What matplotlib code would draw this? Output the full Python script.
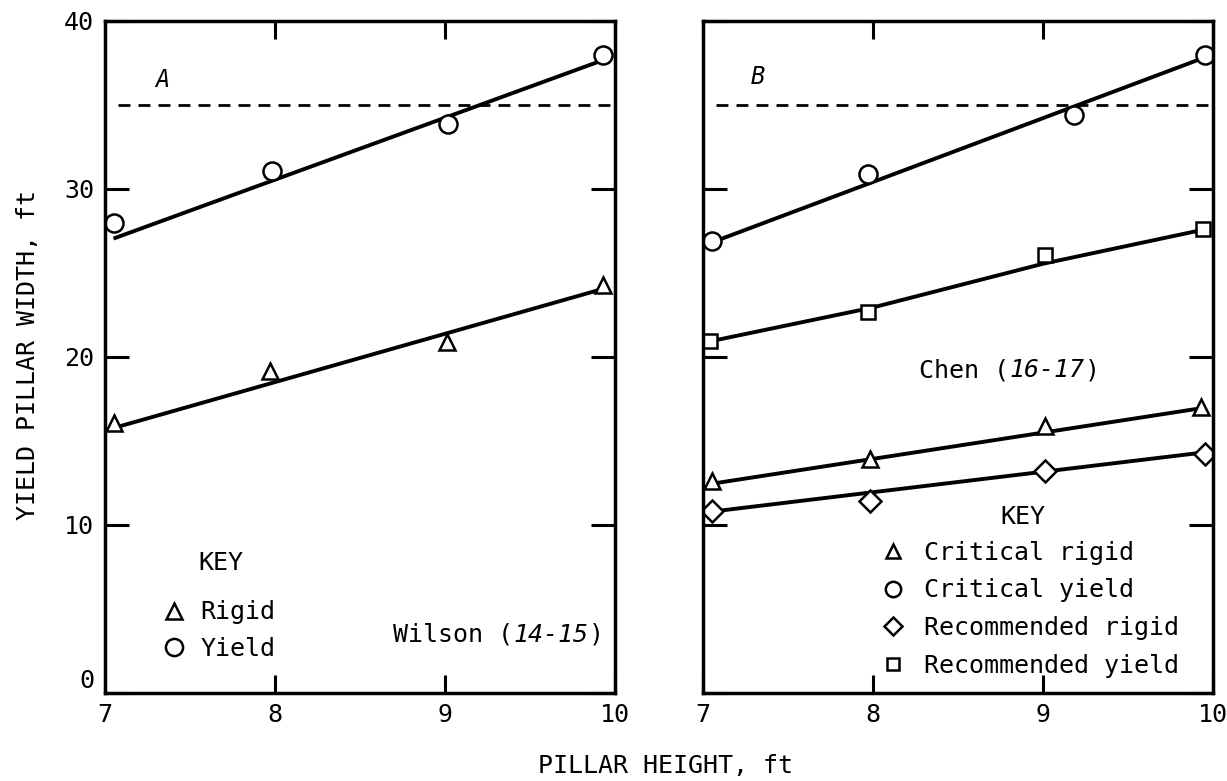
import matplotlib
matplotlib.use("Agg")
import matplotlib.pyplot as plt

plt.rcParams['font.family'] = ['DejaVu Sans Mono', 'DejaVu Sans']
plt.rcParams['font.size'] = 18

# axis setup
X_TICKS = [7, 8, 9, 10]
Y_TICKS = [0, 10, 20, 30, 40]
DASH_LEVEL = 35

# panel A - Wilson
a_yield_x = [7.05, 7.98, 9.02, 9.93]
a_yield_y = [27.95, 31.1, 33.85, 38.0]
a_rigid_x = [7.05, 7.97, 9.01, 9.93]
a_rigid_y = [16.1, 19.15, 20.9, 24.3]
a_yield_fit_x = [7.05, 9.91]
a_yield_fit_y = [27.05, 37.6]
a_rigid_fit_x = [7.06, 9.91]
a_rigid_fit_y = [15.8, 24.0]

# panel B - Chen
b_crit_yield_x = [7.05, 7.97, 9.18, 9.95]
b_crit_yield_y = [26.9, 30.9, 34.4, 37.95]
b_rec_yield_x = [7.04, 7.97, 9.01, 9.94]
b_rec_yield_y = [20.95, 22.7, 26.05, 27.6]
b_crit_rigid_x = [7.05, 7.98, 9.01, 9.93]
b_crit_rigid_y = [12.6, 13.9, 15.9, 17.0]
b_rec_rigid_x = [7.05, 7.98, 9.01, 9.95]
b_rec_rigid_y = [10.85, 11.4, 13.2, 14.25]

b_crit_yield_fit_x = [7.06, 9.93]
b_crit_yield_fit_y = [26.85, 37.75]
b_rec_yield_fit_x = [7.05, 8.0, 9.0, 9.93]
b_rec_yield_fit_y = [20.95, 22.95, 25.55, 27.55]
b_crit_rigid_fit_x = [7.06, 9.93]
b_crit_rigid_fit_y = [12.47, 16.95]
b_rec_rigid_fit_x = [7.07, 9.93]
b_rec_rigid_fit_y = [10.82, 14.3]

W, H = 1227, 781
fig = plt.figure(figsize=(W / 100, H / 100), dpi=100)
axA = fig.add_axes([105 / W, 1 - 693 / H, 510 / W, 672 / H])
axB = fig.add_axes([703 / W, 1 - 693 / H, 510 / W, 672 / H])

mk = dict(ls='none', mfc='white', mec='black', mew=1.8)
fit = dict(color='black', lw=2.8, solid_capstyle='butt')


def style(ax, ylabels):
    ax.set_xlim(7, 10)
    ax.set_ylim(0, 40)
    ax.set_xticks(X_TICKS)
    ax.set_yticks(Y_TICKS)
    for s in ax.spines.values():
        s.set_linewidth(2.5)
    ax.tick_params(direction='in', top=True, right=True, width=2.2, labelsize=18)
    ax.tick_params(axis='y', length=17, pad=8, labelleft=ylabels)
    ax.tick_params(axis='x', length=13, pad=7)
    ax.axhline(DASH_LEVEL, xmin=0.025, xmax=1, color='black', lw=2,
               dashes=(4.3, 2.9), zorder=1)
    if ylabels:
        ax.yaxis.get_major_ticks()[0].label1.set_verticalalignment('bottom')


style(axA, True)
style(axB, False)

# panel A
axA.plot(a_yield_fit_x, a_yield_fit_y, **fit)
axA.plot(a_rigid_fit_x, a_rigid_fit_y, **fit)
hr, = axA.plot(a_rigid_x, a_rigid_y, marker='^', ms=12, **mk)
hy, = axA.plot(a_yield_x, a_yield_y, marker='o', ms=13, **mk)

axA.text(0.113, 0.9125, 'A', style='italic', fontsize=17,
         ha='center', va='center', transform=axA.transAxes)
axA.text(0.2275, 0.1935, 'KEY', ha='center', va='center', transform=axA.transAxes)
axA.legend([hr, hy], ['Rigid', 'Yield'], loc='upper left',
           bbox_to_anchor=(0.111, 0.1377), frameon=False, borderpad=0,
           borderaxespad=0, handlelength=1.0, handletextpad=0.55,
           labelspacing=0.5, numpoints=1, markerscale=0.95)


def mixed_label(ax, x, y, parts):
    # monospace font: each char advances 0.602 em
    adv = 0.602 * 18
    n = 0
    for txt, st in parts:
        ax.annotate(txt, xy=(x, y), xycoords='axes fraction',
                    xytext=(n * adv, 0), textcoords='offset points',
                    ha='left', va='baseline', style=st)
        n += len(txt)


mixed_label(axA, 0.565, 0.0759, [('Wilson (', 'normal'), ('14-15', 'italic'), (')', 'normal')])

# panel B
axB.plot(b_crit_yield_fit_x, b_crit_yield_fit_y, **fit)
axB.plot(b_rec_yield_fit_x, b_rec_yield_fit_y, **fit)
axB.plot(b_crit_rigid_fit_x, b_crit_rigid_fit_y, **fit)
axB.plot(b_rec_rigid_fit_x, b_rec_rigid_fit_y, **fit)
h1, = axB.plot(b_crit_rigid_x, b_crit_rigid_y, marker='^', ms=12, **mk)
h2, = axB.plot(b_crit_yield_x, b_crit_yield_y, marker='o', ms=13, **mk)
h3, = axB.plot(b_rec_rigid_x, b_rec_rigid_y, marker='D', ms=11, **mk)
h4, = axB.plot(b_rec_yield_x, b_rec_yield_y, marker='s', ms=10, **mk)

axB.text(0.107, 0.916, 'B', style='italic', fontsize=17,
         ha='center', va='center', transform=axB.transAxes)
axB.text(0.627, 0.2626, 'KEY', ha='center', va='center', transform=axB.transAxes)
axB.legend([h1, h2, h3, h4],
           ['Critical rigid', 'Critical yield', 'Recommended rigid', 'Recommended yield'],
           loc='upper left', bbox_to_anchor=(0.348, 0.2266), frameon=False,
           borderpad=0, borderaxespad=0, handlelength=1.0, handletextpad=0.75,
           labelspacing=0.55, numpoints=1, markerscale=0.85)

mixed_label(axB, 0.4245, 0.470, [('Chen (', 'normal'), ('16-17', 'italic'), (')', 'normal')])

fig.text(28 / W, 1 - 355 / H, 'YIELD PILLAR WIDTH, ft', rotation=90,
         ha='center', va='center')
fig.text(666 / W, 1 - 766 / H, 'PILLAR HEIGHT, ft', ha='center', va='center')

fig.savefig('out.png', dpi=100)
